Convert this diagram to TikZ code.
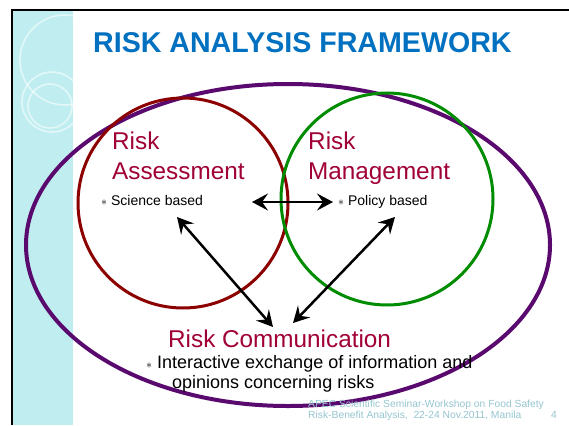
\documentclass[tikz,border=0pt]{standalone}
\usepackage{fontspec}
\setmainfont{Liberation Sans}
\usetikzlibrary{arrows.meta}
\definecolor{titleblue}{RGB}{0,112,192}
\definecolor{crimson}{RGB}{160,0,55}
\definecolor{darkred}{RGB}{140,0,0}
\definecolor{dgreen}{RGB}{0,140,0}
\definecolor{purp}{RGB}{90,10,110}
\definecolor{sidecyan}{RGB}{192,238,240}
\definecolor{footcol}{RGB}{150,198,208}
\tikzset{
  heading/.style={anchor=base west, inner sep=0pt, text=crimson, font=\fontsize{24.3}{24}\selectfont},
  bullet/.style={anchor=base west, inner sep=0pt, text=black, font=\fontsize{14}{14}\selectfont},
  bigbullet/.style={anchor=base west, inner sep=0pt, text=black, font=\fontsize{18}{18}\selectfont},
  footer/.style={anchor=base west, inner sep=0pt, text=footcol, font=\fontsize{10.3}{10}\selectfont},
  link/.style={line width=2.5pt, draw=black, {Stealth[length=16pt,width=17pt,inset=6pt]}-{Stealth[length=16pt,width=17pt,inset=6pt]}},
  deco/.style={draw=white, opacity=0.55, line width=1.6pt}
}
\newcommand{\bul}{{\fontsize{13}{13}\selectfont$\ast$}}
\begin{document}
\begin{tikzpicture}[x=1pt,y=-1pt]
\useasboundingbox (0,0) rectangle (569,425);
\fill[white] (0,0) rectangle (569,425);
% sidebar
\fill[sidecyan] (12,10) rectangle (73,425);
\begin{scope}
\clip (12,10) rectangle (73,425);
\draw[deco] (65,60) circle[radius=45pt];
\draw[deco] (52,102) circle[radius=30pt];
\draw[deco] (50,106) circle[radius=22pt];
\end{scope}
% border
\draw[line width=2pt, black] (12,425) -- (12,10) -- (569,10);
% title
\node[anchor=base west, inner sep=0pt, text=titleblue, font=\fontsize{28.6}{28}\selectfont\bfseries] (title) at (93,53) {RISK ANALYSIS FRAMEWORK};
% shapes
\draw[purp, line width=4pt] (288,245) ellipse[x radius=262pt, y radius=161pt];
\draw[darkred, line width=3pt] (183,203) circle[radius=105pt];
\draw[dgreen, line width=3pt] (387,199) circle[radius=106pt];
% texts
\node[heading] (ra1) at (112,149) {Risk};
\node[heading] (ra2) at (112,179) {Assessment};
\node[heading] (rm1) at (308,149) {Risk};
\node[heading] (rm2) at (308,179) {Management};
\node[bullet] (sci) at (101,205) {\bul\ Science based};
\node[bullet] (pol) at (338,205) {\bul\ Policy based};
\node[heading] (rc) at (168,347) {Risk Communication};
\node[bigbullet] (ie1) at (146,368) {\bul\ Interactive exchange of information and};
\node[bigbullet] (ie2) at (172,388) {opinions concerning risks};
\node[footer] (f1) at (308,407) {APEC Scientific Seminar-Workshop on Food Safety};
\node[footer] (f2) at (308,418) {Risk-Benefit Analysis,\ \ 22-24 Nov.2011, Manila};
\node[footer] (pg) at (551,418) {4};
% arrows
\coordinate (aL) at (252,202);
\coordinate (aR) at (333,202);
\coordinate (bS) at (177,217);
\coordinate (bC) at (273,327);
\coordinate (cP) at (395,217);
\coordinate (cC) at (293,323);
\draw[link] (aL) -- (aR);
\draw[link] (bS) -- (bC);
\draw[link] (cP) -- (cC);
\end{tikzpicture}
\end{document}
